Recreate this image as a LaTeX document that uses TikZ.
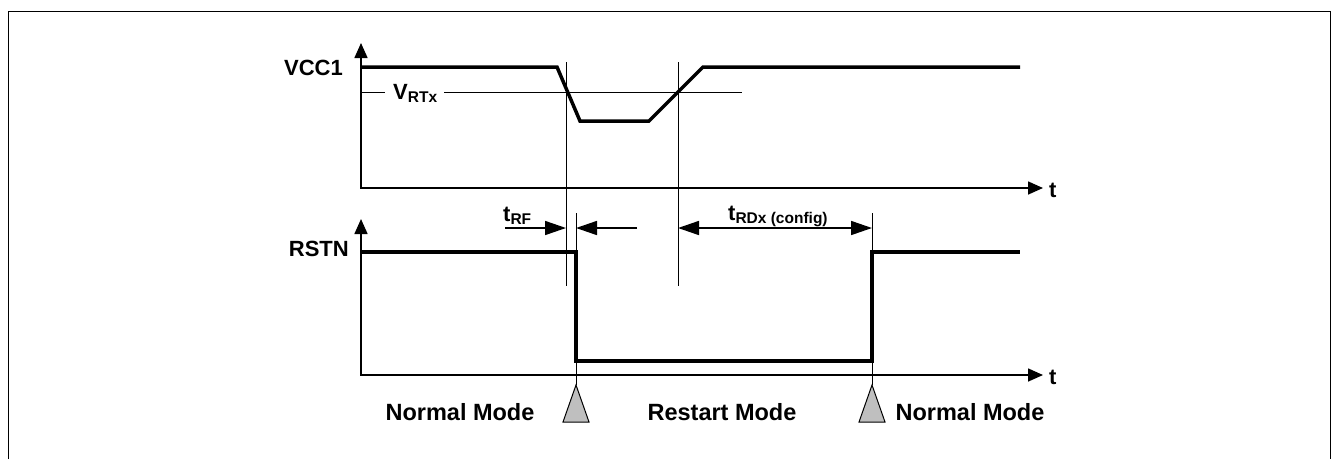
\documentclass[tikz,border=0pt]{standalone}
\usepackage{fontspec}
\setmainfont{Liberation Sans}
\usetikzlibrary{arrows.meta}
\newcommand\sigsub[1]{\raisebox{-3pt}{\fontsize{15.5}{15.5}\selectfont #1}}
\tikzset{
  axisline/.style={line width=1.6pt,{Triangle[length=15pt,width=13pt]}-{Triangle[length=15pt,width=13pt]}},
  wave/.style={line width=3.5pt,line join=miter},
  thinline/.style={line width=1pt},
  dimarrow/.style={line width=1.6pt,-{Triangle[length=21pt,width=14pt]}},
  dimboth/.style={line width=1.6pt,{Triangle[length=21pt,width=14pt]}-{Triangle[length=21pt,width=14pt]}},
  lbl/.style={font=\bfseries\fontsize{22}{26}\selectfont,inner sep=0pt},
  modelbl/.style={font=\bfseries\fontsize{23.5}{27}\selectfont,inner sep=0pt},
  modetri/.style={draw=black,fill=black!25,line width=1pt},
  framebox/.style={line width=1pt}
}
\begin{document}
\begin{tikzpicture}[x=1pt,y=-1pt]
\useasboundingbox (0,0) rectangle (1332,459);
% frame
\coordinate (f1) at (8,459);
\coordinate (f2) at (8,11);
\coordinate (f3) at (1330,11);
\coordinate (f4) at (1330,459);
\draw[framebox] (f1) -- (f2) -- (f3) -- (f4);

% key coordinates
\coordinate (o1) at (361,188);
\coordinate (y1) at (361,43);
\coordinate (x1) at (1043,188);
\coordinate (o2) at (361,375);
\coordinate (y2) at (361,219);
\coordinate (x2) at (1043,375);

% thin reference lines
\coordinate (vr0) at (361,92);
\coordinate (vr1) at (385,92);
\coordinate (vr2) at (444,92);
\coordinate (vr3) at (742,92);
\draw[thinline] (vr0) -- (vr1);
\draw[thinline] (vr2) -- (vr3);

\coordinate (a1) at (566,62);  \coordinate (a2) at (566,286);
\coordinate (b1) at (678,62);  \coordinate (b2) at (678,286);
\coordinate (c1) at (576,213); \coordinate (c2) at (576,385);
\coordinate (d1) at (872,213); \coordinate (d2) at (872,385);
\draw[thinline] (a1) -- (a2);
\draw[thinline] (b1) -- (b2);
\draw[thinline] (c1) -- (c2);
\draw[thinline] (d1) -- (d2);

% VCC1 waveform
\coordinate (v0) at (361,67);
\coordinate (v1) at (557,67);
\coordinate (v2) at (580,121);
\coordinate (v3) at (649,121);
\coordinate (v4) at (703,67);
\coordinate (v5) at (1020,67);
\draw[wave] (v0) -- (v1) -- (v2) -- (v3) -- (v4) -- (v5);

% RSTN waveform
\coordinate (r0) at (361,252);
\coordinate (r1) at (576,252);
\coordinate (r2) at (576,361);
\coordinate (r3) at (872,361);
\coordinate (r4) at (872,252);
\coordinate (r5) at (1020,252);
\draw[wave] (r0) -- (r1) -- (r2) -- (r3) -- (r4) -- (r5);

% axes
\draw[axisline] (y1) -- (o1) -- (x1);
\draw[axisline] (y2) -- (o2) -- (x2);

% dimension arrows
\coordinate (p1) at (505,228); \coordinate (p2) at (566,228);
\coordinate (q1) at (637,228); \coordinate (q2) at (576,228);
\coordinate (s1) at (678,228); \coordinate (s2) at (872,228);
\draw[dimarrow] (p1) -- (p2);
\draw[dimarrow] (q1) -- (q2);
\draw[dimboth] (s1) -- (s2);

% mode triangles
\coordinate (t1a) at (576,385); \coordinate (t1b) at (563,422); \coordinate (t1c) at (589,422);
\coordinate (t2a) at (872,385); \coordinate (t2b) at (859,422); \coordinate (t2c) at (885,422);
\draw[modetri] (t1a) -- (t1b) -- (t1c) -- cycle;
\draw[modetri] (t2a) -- (t2b) -- (t2c) -- cycle;

% labels
\node[lbl,anchor=base east] (lvcc) at (343,75) {VCC1};
\node[lbl,anchor=base east] (lrst) at (349,256) {RSTN};
\node[lbl,anchor=base west] (lt1) at (1049,197) {t};
\node[lbl,anchor=base west] (lt2) at (1049,384) {t};
\node[lbl,anchor=base west] (lvrt) at (393,99) {V\sigsub{RTx}};
\node[lbl,anchor=base west] (ltrf) at (503,221) {t\sigsub{RF}};
\node[lbl,anchor=base west] (ltrd) at (728,220) {t\sigsub{RDx (config)}};
\node[modelbl,anchor=base] (m1) at (460,420) {Normal Mode};
\node[modelbl,anchor=base] (m2) at (722,420) {Restart Mode};
\node[modelbl,anchor=base] (m3) at (970,420) {Normal Mode};
\end{tikzpicture}
\end{document}
